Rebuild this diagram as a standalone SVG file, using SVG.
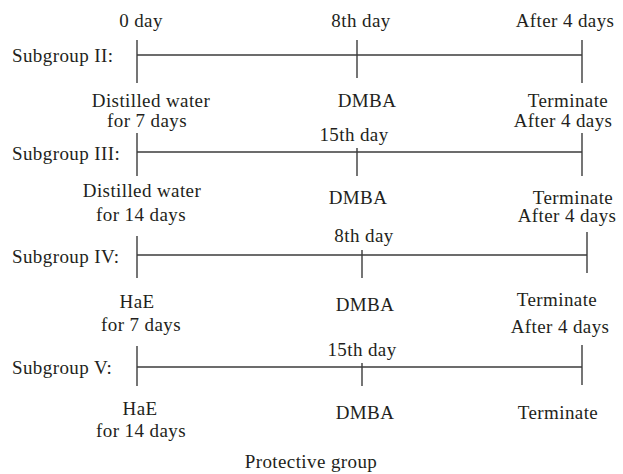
<svg xmlns="http://www.w3.org/2000/svg" width="623" height="474" viewBox="0 0 623 474">
<style>
text{font-family:"Liberation Serif","Times New Roman",serif;font-size:19px;fill:#231f20;letter-spacing:0.4px}
.c{text-anchor:middle}
.ln{stroke:#3c3c3c;stroke-width:1.4;fill:none}
</style>
<rect width="623" height="474" fill="#ffffff"/>
<g id="connectors">
<path class="ln" d="M137 55H582M137 40V83M357 40V78M582 40V83"/>
<path class="ln" d="M137 152H582M137 133V176M357 148V176M582 133V176"/>
<path class="ln" d="M137 255H587M137 236V278M362 250V278M587 232V273"/>
<path class="ln" d="M137 367H582M137 346V386M362 363V386M582 345V385"/>
</g>
<g id="subgroup2">
<text x="12" y="62">Subgroup II:</text>
<text class="c" x="141" y="27">0 day</text>
<text class="c" x="361" y="27">8th day</text>
<text class="c" x="565" y="27">After 4 days</text>
<text class="c" x="151" y="107">Distilled water</text>
<text class="c" x="147" y="127">for 7 days</text>
<text class="c" x="367" y="107">DMBA</text>
<text class="c" x="568" y="107">Terminate</text>
</g>
<g id="subgroup3">
<text x="12" y="160">Subgroup III:</text>
<text class="c" x="563" y="127">After 4 days</text>
<text class="c" x="354" y="141">15th day</text>
<text class="c" x="142" y="197">Distilled water</text>
<text class="c" x="141" y="221">for 14 days</text>
<text class="c" x="358" y="204">DMBA</text>
<text class="c" x="573" y="204">Terminate</text>
</g>
<g id="subgroup4">
<text x="12" y="263">Subgroup IV:</text>
<text class="c" x="567" y="222">After 4 days</text>
<text class="c" x="364" y="242">8th day</text>
<text class="c" x="137" y="308">HaE</text>
<text class="c" x="141" y="331">for 7 days</text>
<text class="c" x="365" y="311">DMBA</text>
<text class="c" x="557" y="306">Terminate</text>
<text class="c" x="560" y="333">After 4 days</text>
</g>
<g id="subgroup5">
<text x="12" y="374">Subgroup V:</text>
<text class="c" x="362" y="356">15th day</text>
<text class="c" x="140" y="415">HaE</text>
<text class="c" x="141" y="437">for 14 days</text>
<text class="c" x="365" y="419">DMBA</text>
<text class="c" x="558" y="419">Terminate</text>
</g>
<g id="caption">
<text class="c" x="311" y="468">Protective group</text>
</g>
</svg>
